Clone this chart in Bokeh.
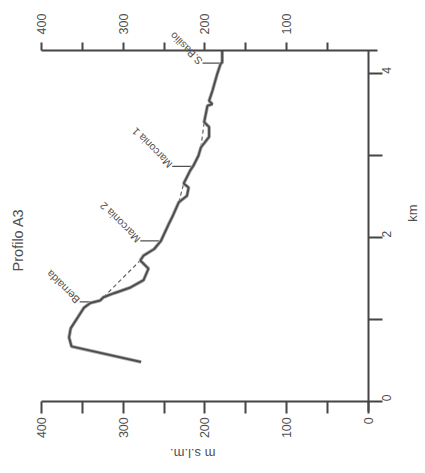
import math
from bokeh.plotting import figure
from bokeh.models import Range1d, LinearAxis, FixedTicker, Label
from bokeh.embed import file_html
from bokeh.resources import INLINE

# ---- data ----
profile_km = [0.48, 0.67, 0.78, 0.89, 1.14, 1.20, 1.23, 1.27, 1.32, 1.39, 1.48, 1.62,
              1.72, 1.78, 1.86, 1.955, 2.17, 2.25, 2.43, 2.51, 2.61, 2.66, 2.74, 2.82,
              2.88, 3.00, 3.10, 3.23, 3.35, 3.41, 3.61, 3.63, 3.67, 3.79, 4.00, 4.12,
              4.14, 4.285]
profile_elev = [278, 363, 366, 364, 348, 340, 328, 324, 311, 291, 275, 269,
                279, 275, 262, 254, 244, 240, 232, 222, 220, 226, 222, 218,
                214, 208, 205, 195, 195, 201, 197, 191, 195, 191, 185, 181,
                179, 179]

dash_km_start = [1.27, 2.43, 3.10]
dash_km_end = [1.72, 2.66, 3.41]
dash_elev_start = [324, 232, 205]
dash_elev_end = [279, 226, 201]

site_names = ["Bernalda", "Marconia 2", "Marconia 1", "S.Basilio"]
site_km = [1.213, 1.958, 2.87, 4.13]
site_elev_profile = [339, 256, 215, 180]
site_elev_leader = [353, 279, 240, 203]

elev_ticks = [0, 100, 200, 300, 400]
elev_minor = [50, 150, 250, 350]
top_ticks = [100, 200, 300, 400]
top_minor = [50, 150, 250, 350]
km_ticks = [0, 2, 4]
km_minor = [1, 3]
km_top = 4.285          # km where the upper elevation axis sits

FONT = "Liberation Sans"
AX = "#454545"
TXT = "#505050"

# the frame covers the whole canvas; axes are placed with fixed_location
p = figure(frame_width=422, frame_height=468, output_backend="svg", toolbar_location=None,
           x_range=Range1d(449.7, -65.6), y_range=Range1d(-0.822, 4.896),
           x_axis_location=None, y_axis_location=None)
p.min_border_left = 0
p.min_border_right = 0
p.min_border_top = 0
p.min_border_bottom = 0
p.outline_line_color = None
p.xgrid.visible = False
p.ygrid.visible = False
p.background_fill_color = "white"
p.border_fill_color = "white"


def style_axis(ax, out_len, standoff, orient, size):
    ax.axis_line_color = AX
    ax.axis_line_width = 2
    ax.major_tick_line_color = AX
    ax.major_tick_line_width = 2
    ax.minor_tick_line_color = AX
    ax.minor_tick_line_width = 2
    ax.major_tick_out = out_len
    ax.major_tick_in = 0
    ax.minor_tick_out = out_len
    ax.minor_tick_in = 0
    ax.major_label_standoff = standoff
    ax.major_label_orientation = orient
    ax.major_label_text_font = FONT
    ax.major_label_text_font_size = size
    ax.major_label_text_color = TXT


bottom = LinearAxis(ticker=FixedTicker(ticks=elev_ticks, minor_ticks=elev_minor),
                    fixed_location=0, bounds=(0, 400))
style_axis(bottom, 12, 4, math.pi / 2, "12.5px")
p.add_layout(bottom, "below")

top = LinearAxis(ticker=FixedTicker(ticks=top_ticks, minor_ticks=top_minor),
                 fixed_location=km_top, bounds=(-11, 400))
style_axis(top, 8, 8, math.pi / 2, "12.5px")
p.add_layout(top, "above")

right = LinearAxis(ticker=FixedTicker(ticks=km_ticks, minor_ticks=km_minor),
                   fixed_location=0, bounds=(-0.12, km_top))
style_axis(right, 14, 4, math.pi / 2, "12px")
p.add_layout(right, "right")

# dashed straight reaches
p.segment(x0=dash_elev_start, y0=dash_km_start, x1=dash_elev_end, y1=dash_km_end,
          line_color="#606060", line_width=1.2, line_dash="4 3")

# leaders
p.segment(x0=site_elev_profile, y0=site_km, x1=site_elev_leader, y1=site_km,
          line_color="#505050", line_width=1.3)

# profile
p.line(profile_elev, profile_km, line_color="#b0b0b0", line_width=3.6)
p.line(profile_elev, profile_km, line_color="#4e4e4e", line_width=2.0)

# site names
for name, km, el in zip(site_names, site_km, site_elev_leader):
    p.add_layout(Label(x=el, y=km, text=name, x_offset=-2,
                       angle=3 * math.pi / 4, text_align="left", text_baseline="middle",
                       text_font=FONT, text_font_size="10.5px", text_color=TXT))

p.add_layout(Label(x=428, y=1.97, text="Profilo A3", angle=math.pi / 2,
                   text_align="center", text_baseline="middle", text_font=FONT,
                   text_font_size="14.5px", text_color=TXT))
p.add_layout(Label(x=-53, y=2.30, text="km", angle=math.pi / 2,
                   text_align="center", text_baseline="middle", text_font=FONT,
                   text_font_size="13px", text_color=TXT))
p.add_layout(Label(x=215, y=-0.635, text="m s.l.m.", angle=math.pi,
                   text_align="center", text_baseline="middle", text_font=FONT,
                   text_font_size="13px", text_color=TXT))

open("out.html", "w").write(file_html(p, INLINE))
